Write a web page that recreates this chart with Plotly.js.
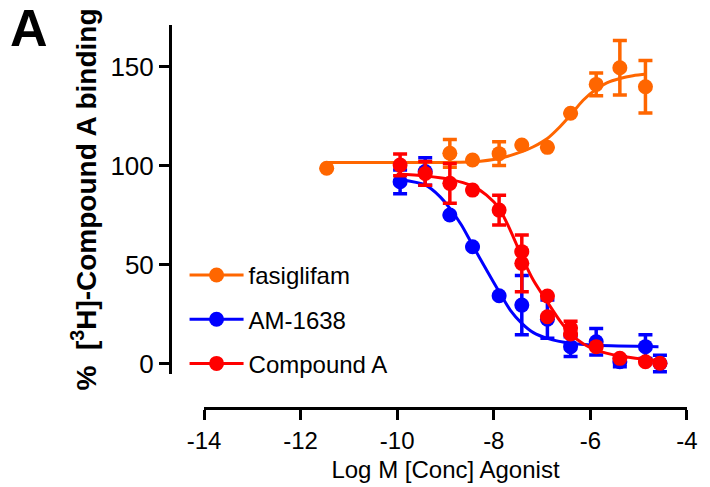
<!DOCTYPE html>
<html>
<head>
<meta charset="utf-8">
<script src="https://cdn.plot.ly/plotly-3.0.1.min.js"></script>
<style>
  html, body { margin: 0; padding: 0; background: #ffffff; }
  #chart { width: 710px; height: 487px; }
</style>
</head>
<body>
<div id="chart"></div>
<script>
// ---- data ----
const seriesNames = ["fasiglifam", "AM-1638", "Compound A"];

const fasLogConc = [-11.46, -8.91, -8.44, -7.89, -7.42, -6.89, -6.41, -5.88, -5.39, -4.86];
const fasMean    = [98.6, 106.2, 102.8, 106.0, 110.4, 109.2, 126.4, 141.0, 149.4, 139.8];
const fasErr     = [null, 7, null, 6, null, null, null, 5.7, 13.8, 13.3];

const amLogConc = [-9.94, -9.42, -8.91, -8.44, -7.89, -7.42, -6.89, -6.41, -5.88, -5.39, -4.86, -4.56];
const amMean    = [91.8, 97.0, 75.0, 59.0, 34.2, 29.5, 22.4, 8.5, 11.0, 0.9, 8.5, 0.0];
const amErr     = [6, 7, null, null, null, 15, 9.7, 5, 6.7, 2.5, 6, 4.2];

const cmpLogConc = [-9.94, -9.42, -8.91, -8.44, -7.89, -7.42, -7.42, -6.89, -6.89, -6.41, -6.41, -5.88, -5.39, -4.86, -4.56];
const cmpMean    = [100.3, 96.0, 91.0, 87.6, 77.5, 56.5, 50.6, 34.1, 23.6, 17.9, 14.9, 8.5, 2.6, 0.9, 0.1];
const cmpErr     = [5.5, 6, 10, null, 7.5, null, 14.3, null, null, 3.5, null, null, null, null, null];

// fitted curves
const fasCurveX = [-11.46, -10.5, -9.5, -8.91, -8.44, -7.89, -7.42, -7.18, -6.89, -6.63, -6.41, -6.15, -5.88, -5.66, -5.39, -5.12, -4.83];
const fasCurveY = [101.5, 101.5, 101.5, 101.6, 101.9, 103.6, 107.0, 109.5, 113.7, 119.6, 125.5, 133.0, 138.5, 141.8, 144.0, 145.4, 146.2];

const amCurveX = [-9.94, -9.42, -9.11, -8.91, -8.67, -8.44, -8.15, -7.89, -7.66, -7.42, -7.18, -6.89, -6.41, -5.88, -4.59];
const amCurveY = [93.0, 90.2, 84.2, 78.4, 70.0, 59.8, 47.2, 36.3, 27.0, 20.3, 15.6, 12.7, 10.2, 9.2, 8.5];

const cmpCurveX = [-10.01, -9.42, -8.91, -8.44, -8.15, -7.89, -7.66, -7.42, -7.18, -6.89, -6.63, -6.41, -6.15, -5.88, -5.39, -4.86, -4.56];
const cmpCurveY = [95.7, 94.7, 93.0, 89.6, 85.1, 78.4, 67.4, 54.0, 42.0, 31.0, 21.5, 15.0, 10.0, 6.8, 3.8, 2.1, 1.4];

const xTickVals = [-14, -12, -10, -8, -6, -4];
const xTickText = ["-14", "-12", "-10", "-8", "-6", "-4"];
const yTickVals = [0, 50, 100, 150];
const yTickText = ["0", "50", "100", "150"];

const colors = ["#FF6600", "#0000FF", "#FF0000"];

// ---- traces ----
const FONT = "Liberation Sans, Arial, Helvetica, sans-serif";
function curve(x, y, c) {
  return { x: x, y: y, type: "scatter", mode: "lines", line: { color: c, width: 3, shape: "spline", smoothing: 0.8 },
           showlegend: false, hoverinfo: "skip", cliponaxis: false };
}
function points(x, y, e, c, name) {
  return { x: x, y: y, type: "scatter", mode: "markers", name: name, showlegend: false,
           marker: { color: c, size: 15, line: { width: 0 } },
           error_y: { type: "data", array: e, symmetric: true, visible: true, color: c, thickness: 3.5, width: 7 },
           cliponaxis: false };
}
function legendEntry(name, c, i) {
  return { x: [null], y: [null], type: "scatter", mode: "lines+markers", name: name,
           legendgroup: "g" + i, showlegend: true,
           line: { color: c, width: 3 }, marker: { color: c, size: 15 } };
}

const data = [
  curve(fasCurveX, fasCurveY, colors[0]),
  points(fasLogConc, fasMean, fasErr, colors[0], seriesNames[0]),
  curve(amCurveX, amCurveY, colors[1]),
  points(amLogConc, amMean, amErr, colors[1], seriesNames[1]),
  curve(cmpCurveX, cmpCurveY, colors[2]),
  points(cmpLogConc, cmpMean, cmpErr, colors[2], seriesNames[2]),
  legendEntry(seriesNames[0], colors[0], 0),
  legendEntry(seriesNames[1], colors[1], 1),
  legendEntry(seriesNames[2], colors[2], 2)
];

const layout = {
  width: 710, height: 487,
  margin: { l: 170, r: 20, t: 25, b: 79, pad: 0 },
  paper_bgcolor: "#ffffff", plot_bgcolor: "#ffffff",
  font: { family: FONT, color: "#000000", size: 24 },
  showlegend: true,
  legend: { x: 0.028, y: 0.405, xanchor: "left", yanchor: "top", bgcolor: "rgba(0,0,0,0)",
            font: { family: FONT, size: 24, color: "#000000" },
            traceorder: "grouped", tracegroupgap: 10, itemwidth: 54 },
  xaxis: {
    domain: [0.0654, 0.9942], range: [-14, -4], anchor: "free", position: 0,
    showline: true, linewidth: 3, linecolor: "#000000", mirror: false,
    ticks: "outside", ticklen: 10, tickwidth: 3, tickcolor: "#000000",
    tickmode: "array", tickvals: xTickVals, ticktext: xTickText,
    tickfont: { family: FONT, size: 24, color: "#000000" },
    showgrid: false, zeroline: false,
    title: { text: "Log M [Conc] Agonist", font: { family: FONT, size: 24, color: "#000000" }, standoff: 8 }
  },
  yaxis: {
    domain: [0.0888, 1], range: [-5.3, 171], anchor: "free", position: 0,
    showline: true, linewidth: 3, linecolor: "#000000",
    ticks: "outside", ticklen: 10, tickwidth: 3, tickcolor: "#000000",
    tickmode: "array", tickvals: yTickVals, ticktext: yTickText,
    tickfont: { family: FONT, size: 26, color: "#000000" },
    showgrid: false, zeroline: false,
    title: { text: "<b>%  [<sup>3</sup>H]-Compound A binding</b>", font: { family: FONT, size: 28, color: "#000000" }, standoff: 4 }
  },
  annotations: [
    { text: "<b>A</b>", xref: "paper", yref: "paper", x: -0.312, y: 1.072, xanchor: "left", yanchor: "top",
      showarrow: false, font: { family: FONT, size: 52, color: "#000000" } }
  ]
};

Plotly.newPlot("chart", data, layout, { displayModeBar: false, staticPlot: true });
</script>
</body>
</html>
